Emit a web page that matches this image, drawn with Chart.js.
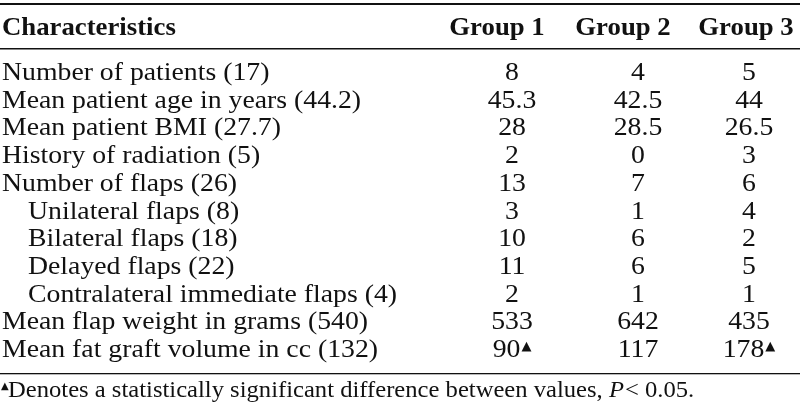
<!DOCTYPE html>
<html>
<head>
<meta charset="utf-8">
<script src="https://cdn.jsdelivr.net/npm/chart.js@4.4.1/dist/chart.umd.min.js"></script>
<style>
  html, body { margin: 0; padding: 0; background: #fff; }
  #wrap { width: 800px; height: 406px; position: relative; }
</style>
</head>
<body>
<div id="wrap"><canvas id="tbl"></canvas></div>
<script>
// table content
const characteristics = [
  'Number of patients (17)',
  'Mean patient age in years (44.2)',
  'Mean patient BMI (27.7)',
  'History of radiation (5)',
  'Number of flaps (26)',
  'Unilateral flaps (8)',
  'Bilateral flaps (18)',
  'Delayed flaps (22)',
  'Contralateral immediate flaps (4)',
  'Mean flap weight in grams (540)',
  'Mean fat graft volume in cc (132)'
];
const indented = [false, false, false, false, false, true, true, true, true, false, false];
const groupNames = ['Group 1', 'Group 2', 'Group 3'];
const group1 = ['8', '45.3', '28', '2', '13', '3', '10', '11', '2', '533', '90'];
const group2 = ['4', '42.5', '28.5', '0', '7', '1', '6', '6', '1', '642', '117'];
const group3 = ['5', '44', '26.5', '3', '6', '4', '2', '5', '1', '435', '178'];
const significant1 = [false, false, false, false, false, false, false, false, false, false, true];
const significant2 = [false, false, false, false, false, false, false, false, false, false, false];
const significant3 = [false, false, false, false, false, false, false, false, false, false, true];
const footnote = 'Denotes a statistically significant difference between values, ';

const groups = [group1, group2, group3];
const sigs = [significant1, significant2, significant3];
const colCenters = [512, 638, 749];   // layout only
const headCenters = [497, 623, 746];

const SERIF = '"Liberation Serif", "Times New Roman", serif';
const INK = '#111';
const SX = 1.11;      // the original face is wider than Times
const SX_BOLD = 1.07;

// draws text squeezed/stretched horizontally, returns drawn width
function drawText(ctx, txt, x, y, sx, align) {
  const w = ctx.measureText(txt).width * sx;
  let left = x;
  if (align === 'center') left = x - w / 2;
  else if (align === 'right') left = x - w;
  ctx.save();
  ctx.translate(left, y);
  ctx.scale(sx, 1);
  ctx.textAlign = 'left';
  ctx.fillText(txt, 0, 0);
  ctx.restore();
  return w;
}

const tablePlugin = {
  id: 'table',
  afterDraw(chart) {
    const { ctx, scales: { y } } = chart;
    const W = chart.width;
    ctx.save();
    ctx.fillStyle = INK;
    ctx.textBaseline = 'alphabetic';

    // rules
    ctx.fillRect(0, 3, W, 2);
    ctx.fillRect(0, 48, W, 1.5);
    ctx.fillRect(0, 373, W, 1.3);

    // header
    ctx.font = 'bold 25px ' + SERIF;
    drawText(ctx, 'Characteristics', 2, 35, SX_BOLD, 'left');
    groupNames.forEach((g, i) => drawText(ctx, g, headCenters[i], 35, SX_BOLD, 'center'));

    // row labels
    ctx.font = '25px ' + SERIF;
    characteristics.forEach((c, r) => {
      drawText(ctx, c, indented[r] ? 28 : 2, y.getPixelForValue(r), SX, 'left');
    });

    // cells, positioned by the dataset elements
    chart.data.datasets.forEach((ds, i) => {
      const meta = chart.getDatasetMeta(i);
      meta.data.forEach((pt, r) => {
        const txt = ds.data[r].v;
        const mark = ds.data[r].sig;
        ctx.font = '25px ' + SERIF;
        const tw = ctx.measureText(txt).width * SX;
        const full = tw + (mark ? 11 : 0);
        const x0 = pt.x - full / 2;
        drawText(ctx, txt, x0, pt.y, SX, 'left');
        if (mark) {
          ctx.font = '13px "DejaVu Sans"';
          drawText(ctx, '\u25B2', x0 + tw + 1, pt.y - 7, 1, 'left');
        }
      });
    });

    // footnote
    ctx.font = '10px "DejaVu Sans"';
    drawText(ctx, '\u25B2', 1, 389, 1, 'left');
    ctx.font = '23px ' + SERIF;
    let fx = 8;
    fx += drawText(ctx, footnote, fx, 397, SX_BOLD, 'left');
    ctx.font = 'italic 23px ' + SERIF;
    fx += drawText(ctx, 'P', fx, 397, SX_BOLD, 'left');
    ctx.font = '23px ' + SERIF;
    drawText(ctx, '< 0.05.', fx + 1, 397, SX_BOLD, 'left');

    ctx.restore();
  }
};

new Chart(document.getElementById('tbl'), {
  type: 'scatter',
  data: {
    datasets: groups.map((g, i) => ({
      label: groupNames[i],
      data: g.map((v, r) => ({ x: colCenters[i], y: r, v: v, sig: sigs[i][r] })),
      pointRadius: 0,
      pointHoverRadius: 0
    }))
  },
  options: {
    responsive: true,
    maintainAspectRatio: false,
    animation: false,
    events: [],
    layout: { padding: { top: 80, bottom: 49, left: 0, right: 0 } },
    plugins: { legend: { display: false }, tooltip: { enabled: false } },
    scales: {
      x: { type: 'linear', min: 0, max: 800, display: false },
      y: { type: 'linear', min: 0, max: characteristics.length - 1, reverse: true, display: false }
    }
  },
  plugins: [tablePlugin]
});
</script>
</body>
</html>
